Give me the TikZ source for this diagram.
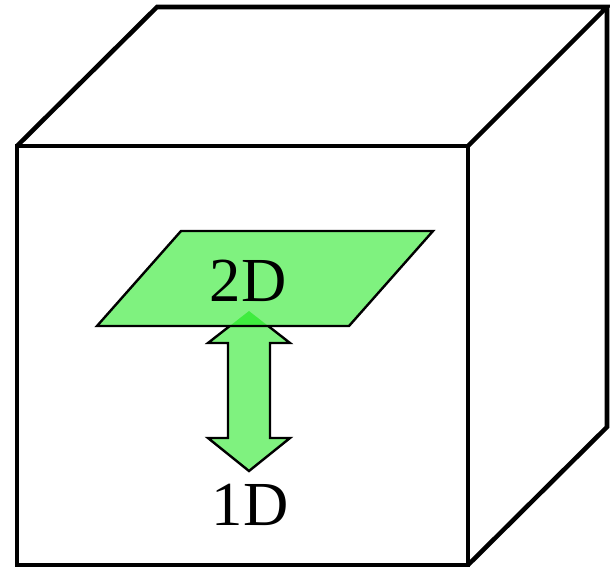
\documentclass[tikz,border=0pt]{standalone}
\usepackage{fontspec}
\setmainfont{Liberation Serif}
\definecolor{planegreen}{RGB}{0,230,0}
\begin{document}
\begin{tikzpicture}[x=0.75pt,y=-0.75pt,
  cubeline/.style={line width=3.4pt,line join=miter},
  shapefill/.style={fill=planegreen,fill opacity=0.5},
  shapeline/.style={line width=1.8pt,line join=miter},
  label/.style={font=\fontsize{47}{50}\selectfont,inner sep=0pt}]
\useasboundingbox (0,0) rectangle (610,567);
% cube corners
\coordinate (ftl) at (17,146);
\coordinate (ftr) at (468,146);
\coordinate (fbr) at (468,565);
\coordinate (fbl) at (17,565);
\coordinate (btl) at (157,7);
\coordinate (btr) at (607,7);
\coordinate (bbr) at (607,427);
% plane corners
\coordinate (p1) at (97,326);
\coordinate (p2) at (181,231);
\coordinate (p3) at (433,231);
\coordinate (p4) at (349,326);
% arrow outline
\def\arrowpath{(249,311) -- (290,343) -- (270,343) -- (270,438) -- (290,438) -- (249,471) -- (208,438) -- (228,438) -- (228,343) -- (208,343) -- cycle}
% cube
\draw[cubeline] (ftl) rectangle (fbr);
\draw[cubeline] (ftl) -- (btl) -- (btr) -- (ftr);
\draw[cubeline] (btr) -- (bbr) -- (fbr);
% fills
\fill[shapefill] \arrowpath;
\fill[shapefill] (p1) -- (p2) -- (p3) -- (p4) -- cycle;
% arrow outline, only below the plane
\begin{scope}
  \clip (150,327) rectangle (350,500);
  \draw[shapeline] \arrowpath;
\end{scope}
\draw[shapeline] (p1) -- (p2) -- (p3) -- (p4) -- cycle;
% labels
\node[label] (twod) at (248,281) {2D};
\node[label] (oned) at (250,505) {1D};
\end{tikzpicture}
\end{document}
